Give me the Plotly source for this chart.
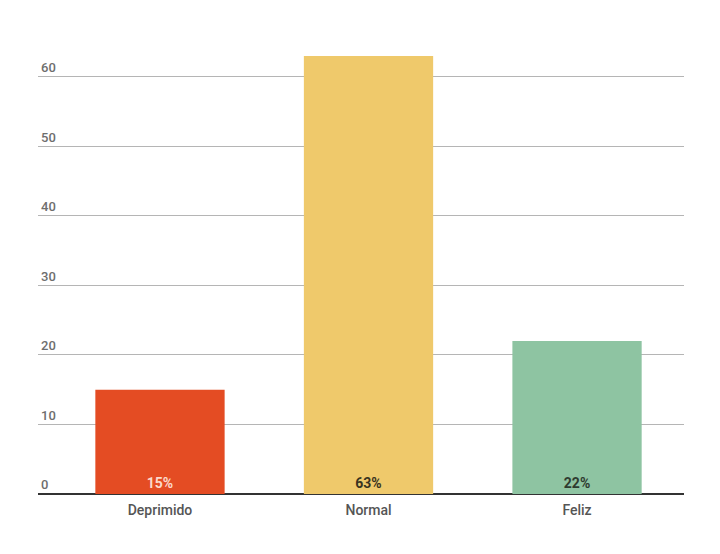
import plotly.graph_objects as go

categories = ["Deprimido", "Normal", "Feliz"]
values = [15, 63, 22]
labels = ["15%", "63%", "22%"]
colors = ["#E44C23", "#EFC96B", "#8EC4A2"]
label_colors = ["#FBD9CC", "#3A3420", "#2E3B30"]
y_ticks = [0, 10, 20, 30, 40, 50, 60]

fig = go.Figure(go.Bar(
    x=list(range(len(categories))), y=values, text=labels,
    marker=dict(color=colors, line=dict(width=0)),
    width=0.62,
    textposition="inside", insidetextanchor="start",
    textfont=dict(family="Roboto", size=14, color=label_colors, weight="bold"),
    textangle=0,
))

fig.update_layout(
    width=712, height=546,
    margin=dict(l=30, r=36, t=34, b=60),
    paper_bgcolor="white", plot_bgcolor="white",
    showlegend=False,
    uniformtext=dict(minsize=8),
    xaxis=dict(
        tickmode="array", tickvals=list(range(len(categories))), ticktext=categories,
        range=[-0.585, 2.513], showgrid=False, zeroline=False,
        showline=False, ticks="", ticklabelstandoff=6,
        tickfont=dict(family="Roboto", size=14, color="#555555", weight=500),
    ),
    yaxis=dict(
        range=[0, 65], tickvals=y_ticks, ticklabelposition="inside top",
        showgrid=True, gridcolor="#B5B5B5", gridwidth=1,
        zeroline=True, zerolinecolor="#333333", zerolinewidth=2,
        tickfont=dict(family="Roboto", size=13, color="#6E6E6E", weight=500),
        ticks="",
    ),
)

fig.write_html("out.html")
